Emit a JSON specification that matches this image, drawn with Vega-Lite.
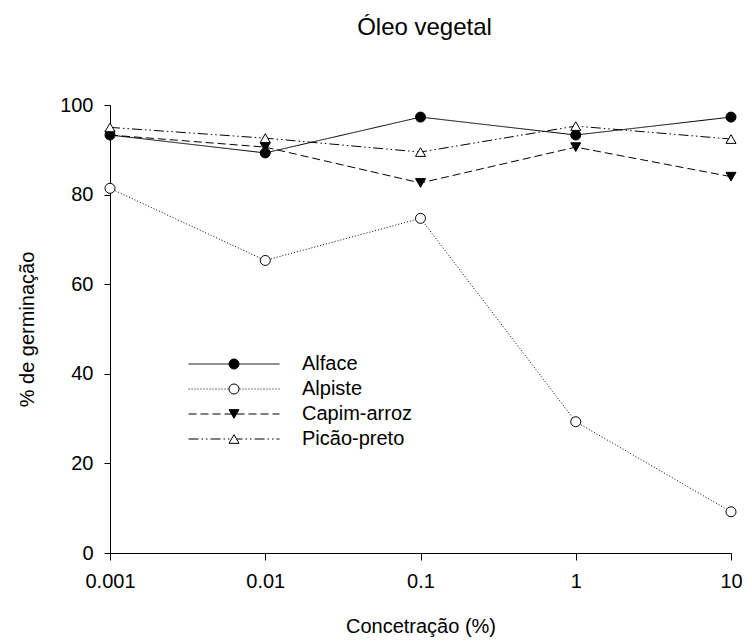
{
  "$schema": "https://vega.github.io/schema/vega-lite/v6.json",
  "width": 621,
  "height": 448,
  "autosize": {"type": "none"},
  "padding": {"left": 110, "top": 105, "right": 21, "bottom": 89},
  "background": "white",
  "title": {"text": "Óleo vegetal", "fontSize": 24, "fontWeight": "normal", "font": "Liberation Sans", "color": "black", "offset": 55, "dx": 4},
  "config": {
    "font": "Liberation Sans",
    "view": {"stroke": null},
    "legend": {"symbolBaseStrokeColor": "black", "symbolStrokeColor": "black"},
    "axis": {"grid": false, "domainColor": "black", "tickColor": "black", "labelColor": "black", "titleColor": "black", "labelFontSize": 20, "titleFontSize": 20, "titleFontWeight": "normal", "labelFont": "Liberation Sans", "titleFont": "Liberation Sans"}
  },
  "data": {"values": [
    {"conc": 0.001, "pct": 93.3, "serie": "Alface"},
    {"conc": 0.01, "pct": 89.3, "serie": "Alface"},
    {"conc": 0.1, "pct": 97.3, "serie": "Alface"},
    {"conc": 1, "pct": 93.3, "serie": "Alface"},
    {"conc": 10, "pct": 97.3, "serie": "Alface"},
    {"conc": 0.001, "pct": 81.4, "serie": "Alpiste"},
    {"conc": 0.01, "pct": 65.3, "serie": "Alpiste"},
    {"conc": 0.1, "pct": 74.7, "serie": "Alpiste"},
    {"conc": 1, "pct": 29.3, "serie": "Alpiste"},
    {"conc": 10, "pct": 9.2, "serie": "Alpiste"},
    {"conc": 0.001, "pct": 93.3, "serie": "Capim-arroz"},
    {"conc": 0.01, "pct": 90.6, "serie": "Capim-arroz"},
    {"conc": 0.1, "pct": 82.6, "serie": "Capim-arroz"},
    {"conc": 1, "pct": 90.6, "serie": "Capim-arroz"},
    {"conc": 10, "pct": 84.0, "serie": "Capim-arroz"},
    {"conc": 0.001, "pct": 95.0, "serie": "Picão-preto"},
    {"conc": 0.01, "pct": 92.6, "serie": "Picão-preto"},
    {"conc": 0.1, "pct": 89.5, "serie": "Picão-preto"},
    {"conc": 1, "pct": 95.3, "serie": "Picão-preto"},
    {"conc": 10, "pct": 92.4, "serie": "Picão-preto"}
  ]},
  "encoding": {
    "x": {"field": "conc", "type": "quantitative", "scale": {"type": "log", "domain": [0.001, 10], "nice": false},
      "axis": {"title": "Concetração (%)", "values": [0.001, 0.01, 0.1, 1, 10], "format": "~g", "tickSize": 7, "labelPadding": 11, "titlePadding": 25, "labelFlush": false}},
    "y": {"field": "pct", "type": "quantitative", "scale": {"domain": [0, 100], "nice": false},
      "axis": {"title": "% de germinação", "values": [0, 20, 40, 60, 80, 100], "tickSize": 6, "labelPadding": 11, "titlePadding": 22}}
  },
  "layer": [
    {
      "mark": {"type": "line", "stroke": "black", "strokeWidth": 1},
      "encoding": {
        "strokeDash": {"field": "serie", "type": "nominal",
          "scale": {"domain": ["Alface", "Alpiste", "Capim-arroz", "Picão-preto"], "range": [[1, 0], [1, 2], [8, 4], [10, 3, 1.5, 3, 1.5, 3]]},
          "legend": {"orient": "none", "legendX": 114, "legendY": 249, "title": null, "symbolType": "M-9.1,0H9.1", "symbolSize": 100, "symbolStrokeColor": "black", "symbolStrokeWidth": 1, "labelFontSize": 20, "labelColor": "black", "labelOffset": 58, "rowPadding": 5}}
      }
    },
    {
      "mark": {"type": "point", "strokeWidth": 1, "opacity": 1},
      "encoding": {
        "shape": {"field": "serie", "type": "nominal", "scale": {"range": ["circle", "circle", "triangle-down", "triangle-up"]},
          "legend": {"orient": "none", "legendX": 114, "legendY": 249, "title": null, "symbolSize": 100, "symbolStrokeWidth": 1, "symbolOpacity": 1, "labelFontSize": 20, "labelExpr": "''", "rowPadding": 5}},
        "fill": {"field": "serie", "type": "nominal", "scale": {"range": ["black", "white", "black", "white"]},
          "legend": {"orient": "none", "legendX": 114, "legendY": 249, "title": null, "symbolSize": 100, "symbolStrokeWidth": 1, "symbolOpacity": 1, "labelFontSize": 20, "labelExpr": "''", "rowPadding": 5}},
        "stroke": {"field": "serie", "type": "nominal", "scale": {"range": ["black", "black", "black", "black"]},
          "legend": {"orient": "none", "legendX": 114, "legendY": 249, "title": null, "symbolSize": 100, "symbolStrokeWidth": 1, "symbolOpacity": 1, "labelFontSize": 20, "labelExpr": "''", "rowPadding": 5}},
        "size": {"value": 100}
      }
    }
  ]
}
